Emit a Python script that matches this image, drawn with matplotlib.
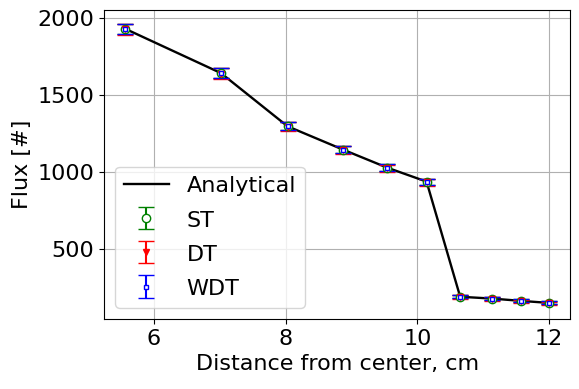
import matplotlib
matplotlib.use("Agg")
import matplotlib.pyplot as plt
import numpy as np

x = [5.57, 7.02, 8.03, 8.87, 9.54, 10.14, 10.65, 11.14, 11.58, 12.0]
analytical = [1928, 1641, 1296, 1145, 1028, 937, 190, 178, 163, 150]
st = [1928, 1641, 1296, 1145, 1028, 937, 190, 178, 163, 150]
dt = [1925, 1638, 1292, 1140, 1023, 932, 188, 176, 161, 148]
wdt = [1928, 1641, 1296, 1145, 1028, 937, 190, 178, 163, 150]
st_err = [32, 30, 27, 24, 22, 20, 11, 11, 10, 10]
dt_err = [36, 33, 29, 26, 24, 22, 12, 12, 11, 11]
wdt_err = [32, 30, 27, 24, 22, 20, 11, 11, 10, 10]

plt.rcParams['font.size'] = 16
fig, ax = plt.subplots(figsize=(5.79, 3.89), dpi=100)
ax.plot(x, analytical, 'k-', lw=1.7, label='Analytical')
ax.errorbar(x, st, yerr=st_err, fmt='o', color='green', mfc='white', ms=6, capsize=6, label='ST')
ax.errorbar(x, dt, yerr=dt_err, fmt='v', color='red', ms=4, capsize=6, label='DT')
ax.errorbar(x, wdt, yerr=wdt_err, fmt='s', color='blue', mfc='white', ms=3, capsize=6, label='WDT')
ax.set_xlabel('Distance from center, cm')
ax.set_ylabel('Flux [#]')
ax.grid(True)
ax.legend(loc='lower left', labelspacing=0.6, handleheight=0.9)
fig.subplots_adjust(left=0.18, right=0.985, top=0.975, bottom=0.18)
fig.savefig('out.png', dpi=100)
